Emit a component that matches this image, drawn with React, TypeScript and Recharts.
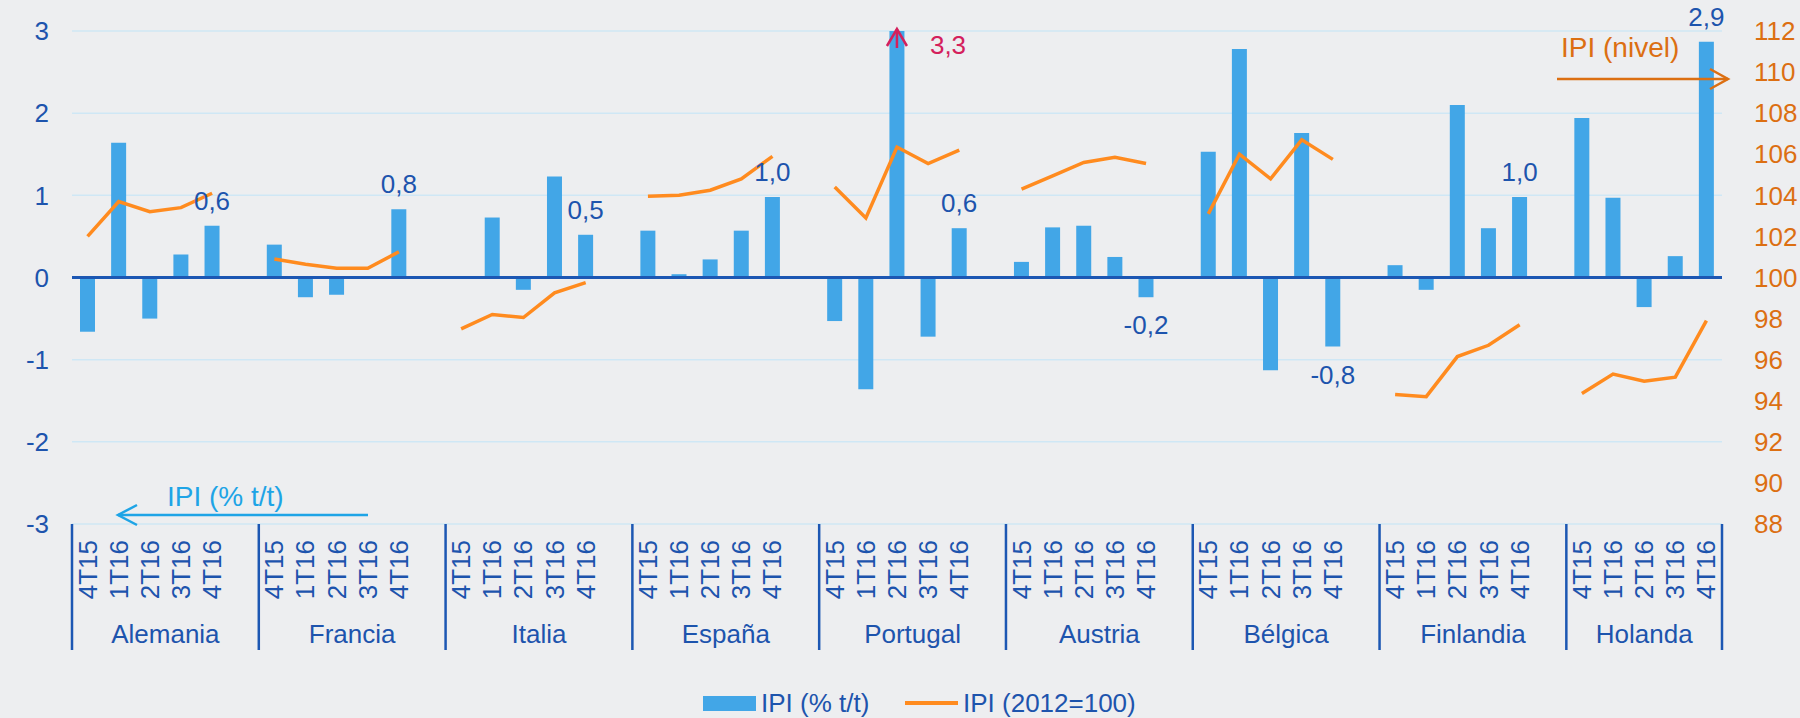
import React from 'react';
import { ComposedChart, Bar, Line, XAxis, YAxis, CartesianGrid, ReferenceLine, LabelList } from 'recharts';

const quarters = ['4T15', '1T16', '2T16', '3T16', '4T16'];
const countries = ['Alemania', 'Francia', 'Italia', 'España', 'Portugal', 'Austria', 'Bélgica', 'Finlandia', 'Holanda'];

// IPI (% t/t), one row per country
const ipiQoQ = [
  [-0.66, 1.64, -0.5, 0.28, 0.63],
  [0.4, -0.24, -0.21, 0, 0.83],
  [0, 0.73, -0.15, 1.23, 0.52],
  [0.57, 0.04, 0.22, 0.57, 0.98],
  [-0.53, -1.36, 3.3, -0.72, 0.6],
  [0.19, 0.61, 0.63, 0.25, -0.24],
  [1.53, 2.78, -1.13, 1.76, -0.84],
  [0.15, -0.15, 2.1, 0.6, 0.98],
  [1.94, 0.97, -0.36, 0.26, 2.87],
];

// IPI (2012=100)
const ipiLevel = [
  [102.0, 103.7, 103.2, 103.4, 104.1],
  [100.9, 100.65, 100.45, 100.45, 101.25],
  [97.5, 98.2, 98.05, 99.25, 99.75],
  [103.95, 104.0, 104.25, 104.8, 105.9],
  [104.4, 102.9, 106.35, 105.55, 106.2],
  [104.3, 104.95, 105.6, 105.85, 105.55],
  [103.1, 106.0, 104.8, 106.7, 105.75],
  [94.3, 94.2, 96.15, 96.7, 97.7],
  [94.35, 95.3, 94.95, 95.15, 97.9],
];

const leftTicks = [-3, -2, -1, 0, 1, 2, 3];
const rightTicks = [88, 90, 92, 94, 96, 98, 100, 102, 104, 106, 108, 110, 112];

const W = 1800;
const H = 718;
const LEFT_W = 72;
const RIGHT_W = 78;
const X_H = 140;
const FONT = '"Liberation Sans", Arial, sans-serif';
const BLUE_TXT = '#1d54ad';
const DARK_LINE = '#1c57b3';
const BAR = '#42a6e7';
const ORANGE = '#ff8b1f';
const ORANGE_TXT = '#dc6f12';
const RED = '#d4205c';
const CYAN = '#1ea4e6';

const LEFT_MAX = leftTicks[leftTicks.length - 1];
const fmt = (v: number) => v.toFixed(1).replace('.', ',');

type Row = { q: string; country: string; qoq: number | null; level: number | null; label: string | null };
const rows: Row[] = [];
countries.forEach((c, ci) => {
  quarters.forEach((q, qi) => {
    const v = ipiQoQ[ci][qi];
    const show = qi === quarters.length - 1 || v > LEFT_MAX;
    rows.push({ q, country: c, qoq: v, level: ipiLevel[ci][qi], label: show ? fmt(v) : null });
  });
  // empty slot between countries
  if (ci < countries.length - 1) rows.push({ q: '', country: c, qoq: null, level: null, label: null });
});

const SLOT = (W - LEFT_W - RIGHT_W) / rows.length;

const QuarterTick = (props: any) => {
  const { x, y } = props;
  const index = props.index ?? props.payload?.index;
  const row = rows[index];
  if (!row) return null;
  const half = SLOT / 2;
  const sepLen = 126;
  const els: React.ReactNode[] = [];
  if (index === 0) {
    els.push(<line key="s0" x1={x - half} x2={x - half} y1={y} y2={y + sepLen} stroke={DARK_LINE} strokeWidth={2.5} />);
  }
  if (!row.q || index === rows.length - 1) {
    els.push(<line key="s1" x1={x + half} x2={x + half} y1={y} y2={y + sepLen} stroke={DARK_LINE} strokeWidth={2.5} />);
  }
  if (row.q) {
    els.push(
      <text key="t" transform={`translate(${x + 9},${y + 16}) rotate(-90)`} textAnchor="end" fontSize={26} fill={BLUE_TXT} fontFamily={FONT}>
        {row.q}
      </text>
    );
  }
  if (row.q === quarters[0]) {
    const n = rows.slice(index).findIndex((r) => !r.q);
    const span = n === -1 ? rows.length - index : n + 1;
    const cx = x - half + (span * SLOT) / 2;
    els.push(
      <text key="c" x={cx} y={y + 119} textAnchor="middle" fontSize={26} fill={BLUE_TXT} fontFamily={FONT}>
        {row.country}
      </text>
    );
  }
  return <g>{els}</g>;
};

const ValueLabel = (props: any) => {
  const { x, y, width, height, value } = props;
  if (value == null || value === '') return null;
  const v = parseFloat(String(value).replace(',', '.'));
  const cx = x + width / 2;
  const top = Math.min(y, y + height);
  const bottom = Math.max(y, y + height);
  if (v > LEFT_MAX) {
    // bar is cut at the top of the axis: mark it with an arrow
    const plotTop = bottom - (LEFT_MAX * Math.abs(height)) / v;
    return (
      <g>
        <line x1={cx} x2={cx} y1={plotTop - 2} y2={plotTop + 17} stroke={RED} strokeWidth={2.5} />
        <polyline points={`${cx - 10},${plotTop + 15} ${cx},${plotTop - 2} ${cx + 10},${plotTop + 15}`} fill="none" stroke={RED} strokeWidth={2.5} />
        <text x={cx + 33} y={plotTop + 23} fontSize={26} fill={RED} fontFamily={FONT}>{value}</text>
      </g>
    );
  }
  const pos = v >= 0;
  return (
    <text x={cx} y={pos ? top - 16 : bottom + 37} textAnchor="middle" fontSize={26} fill={BLUE_TXT} fontFamily={FONT}>
      {value}
    </text>
  );
};

export default function App() {
  return (
    <div style={{ position: 'absolute', left: 0, top: 0, width: W, height: H, background: '#edeef0', fontFamily: FONT }}>
      <ComposedChart width={W} height={H} data={rows} margin={{ top: 31, right: 0, left: 0, bottom: H - 31 - 493 - X_H }}>
        <CartesianGrid yAxisId="left" horizontal vertical={false} stroke="#cfe7f5" strokeWidth={1.5} />
        <XAxis
          dataKey="q"
          interval={0}
          height={X_H}
          tickLine={false}
          axisLine={false}
          tickSize={0}
          tickMargin={0}
          tick={(p: any) => <QuarterTick {...p} />}
        />
        <YAxis
          yAxisId="left"
          orientation="left"
          width={LEFT_W}
          domain={[-3, 3]}
          ticks={leftTicks}
          allowDataOverflow
          axisLine={false}
          tickLine={false}
          tickSize={0}
          tickMargin={23}
          tick={{ fill: BLUE_TXT, fontSize: 26, fontFamily: FONT }}
        />
        <YAxis
          yAxisId="right"
          orientation="right"
          width={RIGHT_W}
          domain={[88, 112]}
          ticks={rightTicks}
          allowDataOverflow
          axisLine={false}
          tickLine={false}
          tickSize={0}
          tickMargin={32}
          tick={{ fill: ORANGE_TXT, fontSize: 26, fontFamily: FONT }}
        />
        <Bar yAxisId="left" dataKey="qoq" name="IPI (% t/t)" fill={BAR} barSize={15} isAnimationActive={false}>
          <LabelList dataKey="label" content={(p: any) => <ValueLabel {...p} />} />
        </Bar>
        <Line
          yAxisId="right"
          dataKey="level"
          name="IPI (2012=100)"
          type="linear"
          stroke={ORANGE}
          strokeWidth={3.5}
          dot={false}
          activeDot={false}
          connectNulls={false}
          isAnimationActive={false}
        />
        <ReferenceLine yAxisId="left" y={0} stroke={DARK_LINE} strokeWidth={3} />
      </ComposedChart>
      <svg width={W} height={H} style={{ position: 'absolute', left: 0, top: 0, pointerEvents: 'none' }}>
        {/* left-axis annotation */}
        <text x={167} y={506} fontSize={28} fill={CYAN} fontFamily={FONT}>IPI (% t/t)</text>
        <line x1={118} x2={368} y1={515} y2={515} stroke={CYAN} strokeWidth={2.5} />
        <polyline points="137,505 118,515 137,525" fill="none" stroke={CYAN} strokeWidth={2.5} />
        {/* right-axis annotation */}
        <text x={1561} y={57} fontSize={28} fill={ORANGE_TXT} fontFamily={FONT}>IPI (nivel)</text>
        <line x1={1557} x2={1728} y1={79} y2={79} stroke={ORANGE_TXT} strokeWidth={2.5} />
        <polyline points="1710,69 1728,79 1710,89" fill="none" stroke={ORANGE_TXT} strokeWidth={2.5} />
        {/* legend */}
        <rect x={703} y={696} width={53} height={15} fill={BAR} />
        <text x={761} y={712} fontSize={26} fill={BLUE_TXT} fontFamily={FONT}>IPI (% t/t)</text>
        <line x1={905} x2={958} y1={703} y2={703} stroke={ORANGE} strokeWidth={4} />
        <text x={963} y={712} fontSize={26} fill={BLUE_TXT} fontFamily={FONT}>IPI (2012=100)</text>
      </svg>
    </div>
  );
}
